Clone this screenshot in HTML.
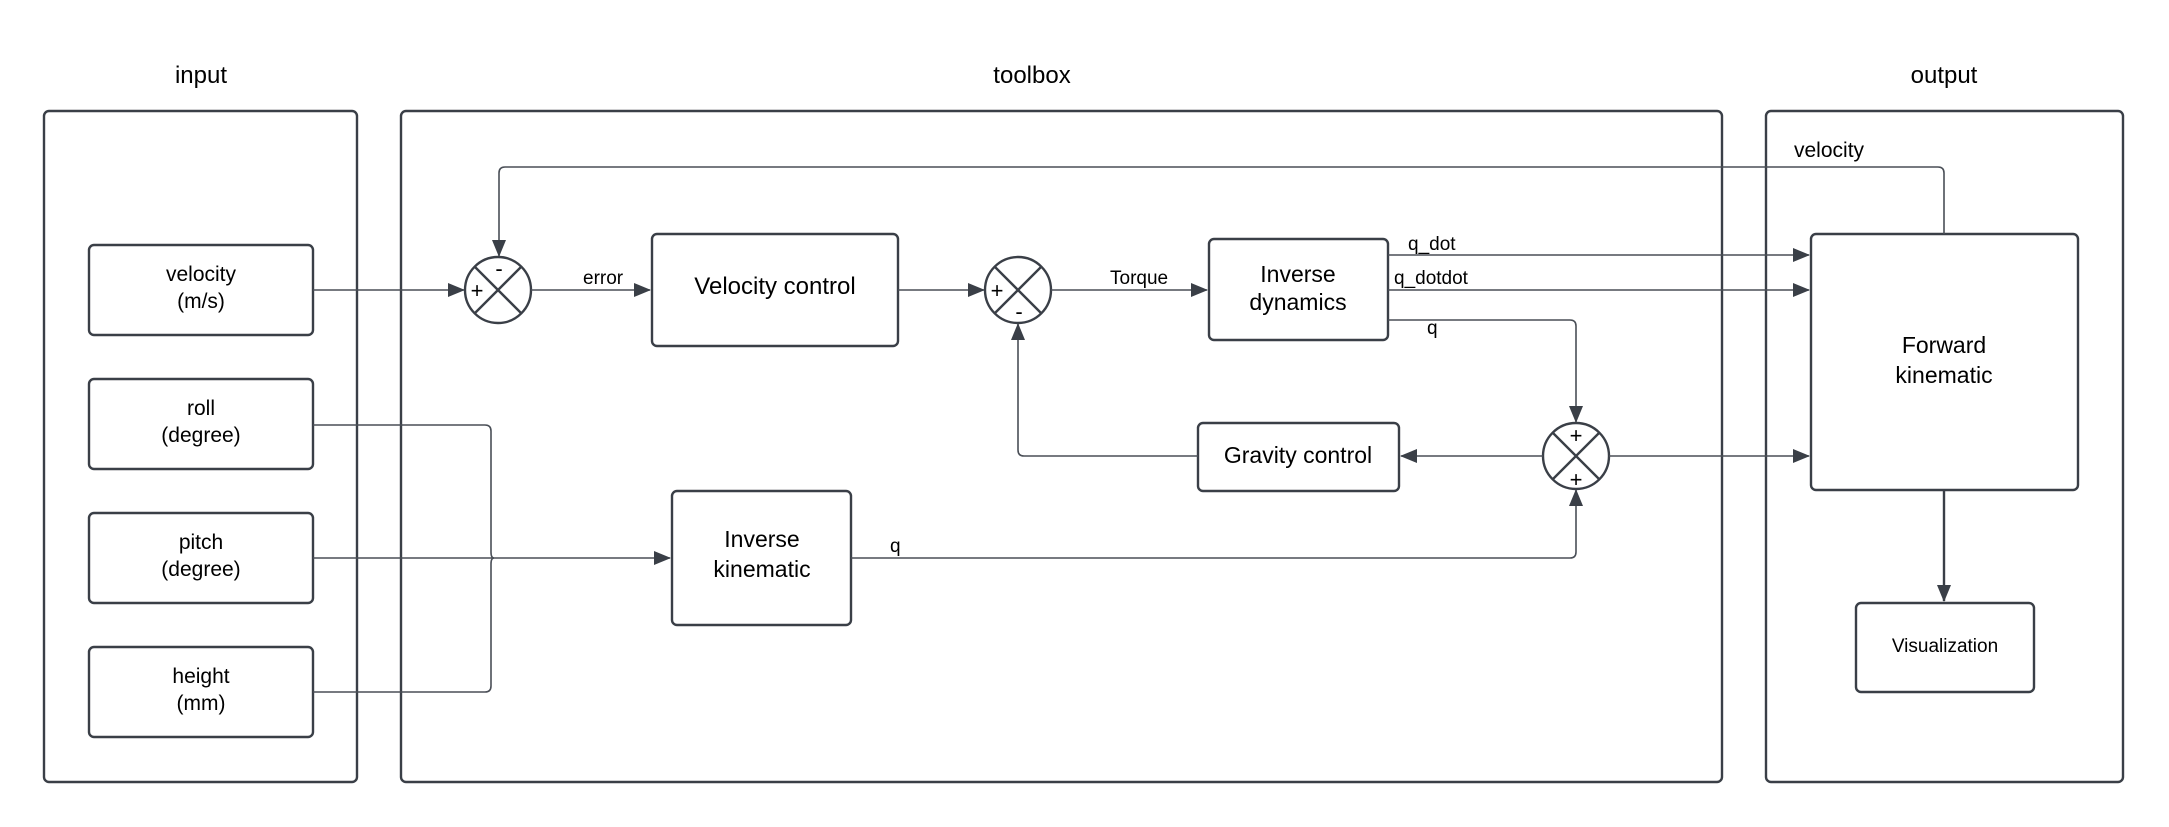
<!DOCTYPE html>
<html><head><meta charset="utf-8"><style>
html,body{margin:0;padding:0;background:#fff;}
svg{display:block;font-family:"Liberation Sans",Arial,sans-serif;}
</style></head><body>
<svg width="2169" height="827" viewBox="0 0 2169 827" xmlns="http://www.w3.org/2000/svg">
<defs>
<marker id="a" markerWidth="17" markerHeight="14" refX="16" refY="7" orient="auto" markerUnits="userSpaceOnUse">
<path d="M0,0 L17,7 L0,14 Z" fill="#3a3f47"/></marker>
</defs>
<g fill="#000" text-anchor="middle" font-size="24">
<text x="201" y="83">input</text>
<text x="1032" y="83">toolbox</text>
<text x="1944" y="83">output</text>
</g>
<g fill="none" stroke="#3a3f47" stroke-width="2.4">
<rect x="44" y="111" width="313" height="671" rx="5"/>
<rect x="401" y="111" width="1321" height="671" rx="5"/>
<rect x="1766" y="111" width="357" height="671" rx="5"/>
<rect x="89" y="245" width="224" height="90" rx="5"/>
<rect x="89" y="379" width="224" height="90" rx="5"/>
<rect x="89" y="513" width="224" height="90" rx="5"/>
<rect x="89" y="647" width="224" height="90" rx="5"/>
<rect x="652" y="234" width="246" height="112" rx="5"/>
<rect x="1209" y="239" width="179" height="101" rx="5"/>
<rect x="1198" y="423" width="201" height="68" rx="5"/>
<rect x="672" y="491" width="179" height="134" rx="5"/>
<rect x="1811" y="234" width="267" height="256" rx="5"/>
<rect x="1856" y="603" width="178" height="89" rx="5"/>
<circle cx="498" cy="290" r="33"/>
<path d="M475,267 L521,313 M521,267 L475,313"/>
<circle cx="1018" cy="290" r="33"/>
<path d="M995,267 L1041,313 M1041,267 L995,313"/>
<circle cx="1576" cy="456" r="33"/>
<path d="M1553,433 L1599,479 M1599,433 L1553,479"/>
</g>
<g fill="none" stroke="#4a4f57" stroke-width="1.6">
<path d="M313,290 H464" marker-end="url(#a)"/>
<path d="M531,290 H650" marker-end="url(#a)"/>
<path d="M898,290 H984" marker-end="url(#a)"/>
<path d="M1051,290 H1207" marker-end="url(#a)"/>
<path d="M1388,255 H1809" marker-end="url(#a)"/>
<path d="M1388,290 H1809" marker-end="url(#a)"/>
<path d="M1388,320 H1570 Q1576,320 1576,326 V422" marker-end="url(#a)"/>
<path d="M1944,234 V173 Q1944,167 1938,167 H505 Q499,167 499,173 V256" marker-end="url(#a)"/>
<path d="M1543,456 H1401" marker-end="url(#a)"/>
<path d="M1198,456 H1024 Q1018,456 1018,450 V324" marker-end="url(#a)"/>
<path d="M1609,456 H1809" marker-end="url(#a)"/>
<path d="M851,558 H1570 Q1576,558 1576,552 V490" marker-end="url(#a)"/>
<path d="M313,558 H670" marker-end="url(#a)"/>
<path d="M313,425 H485 Q491,425 491,431 V552 Q491,558 494,558 Q491,558 491,564 V686 Q491,692 485,692 H313"/>
</g>
<path d="M1944,490 V601" stroke="#3a3f47" stroke-width="2.4" fill="none" marker-end="url(#a)"/>
<g fill="#000" text-anchor="middle" font-size="21">
<text x="201" y="281">velocity</text><text x="201" y="308">(m/s)</text>
<text x="201" y="415">roll</text><text x="201" y="442">(degree)</text>
<text x="201" y="549">pitch</text><text x="201" y="576">(degree)</text>
<text x="201" y="683">height</text><text x="201" y="710">(mm)</text>
<text x="775" y="294" font-size="24">Velocity control</text>
<text x="1298" y="282" font-size="23">Inverse</text><text x="1298" y="310" font-size="23">dynamics</text>
<text x="1298" y="463" font-size="23">Gravity control</text>
<text x="762" y="547" font-size="23">Inverse</text><text x="762" y="577" font-size="23">kinematic</text>
<text x="1944" y="353" font-size="23">Forward</text><text x="1944" y="383" font-size="23">kinematic</text>
<text x="1945" y="652" font-size="19">Visualization</text>
</g>
<g fill="#000" font-size="19">
<text x="583" y="284">error</text>
<text x="1110" y="284">Torque</text>
<text x="1408" y="250">q_dot</text>
<text x="1394" y="284">q_dotdot</text>
<text x="1427" y="334">q</text>
<text x="890" y="552">q</text>
<text x="1794" y="157" font-size="21">velocity</text>
</g>
<g fill="#000" font-size="22" text-anchor="middle">
<text x="477" y="298">+</text><text x="499" y="276">-</text>
<text x="997" y="298">+</text><text x="1019" y="319">-</text>
<text x="1576" y="443">+</text><text x="1576" y="487">+</text>
</g>
</svg>
</body></html>
